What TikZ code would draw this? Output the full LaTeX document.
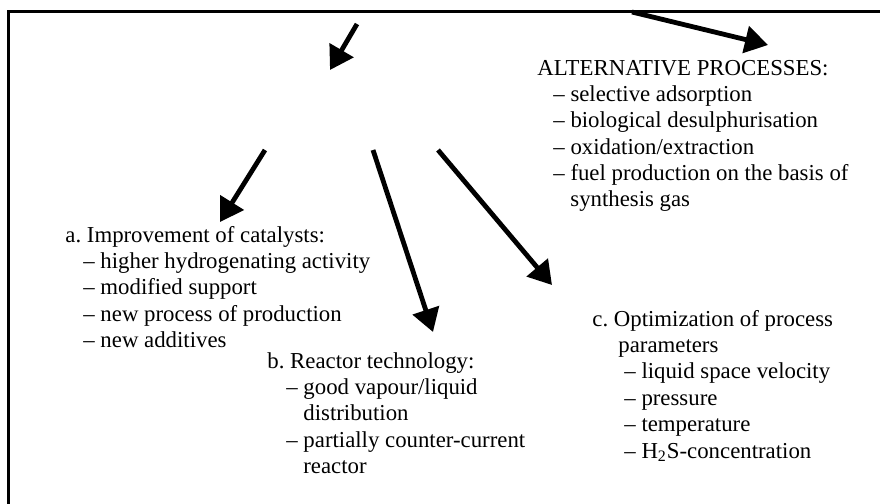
\documentclass[tikz,border=0pt]{standalone}
\usepackage{fontspec}
\setmainfont{Liberation Serif}
\usetikzlibrary{arrows.meta}
\newcommand{\dl}{\textendash\ }
\frenchspacing

\begin{document}
\begin{tikzpicture}
[x=0.5pt,y=-0.5pt
,blk/.style={anchor=base west,inner sep=0pt,font=\fontsize{11.4}{13.2}\selectfont}
,ar/.style={draw=black,line width=2.4pt,arrows={-Triangle[length=11.5pt,width=13.5pt]}}
,frm/.style={draw=black,line width=1.5pt}]
\useasboundingbox (0,0) rectangle (880,504);
\draw[frm] (8,504) -- (8,11) -- (880,11);
\node[blk] (alt) at (537,75) {\parbox[t]{200pt}{ALTERNATIVE PROCESSES:\\
\hspace*{8pt}\dl selective adsorption\\
\hspace*{8pt}\dl biological desulphurisation\\
\hspace*{8pt}\dl oxidation/extraction\\
\hspace*{8pt}\dl fuel production on the basis of\\
\hspace*{16.5pt}synthesis gas}};
\node[blk] (cat) at (65,242) {\parbox[t]{200pt}{a. Improvement of catalysts:\\
\hspace*{9pt}\dl higher hydrogenating activity\\
\hspace*{9pt}\dl modified support\\
\hspace*{9pt}\dl new process of production\\
\hspace*{9pt}\dl new additives}};
\node[blk] (rct) at (267,368) {\parbox[t]{200pt}{b. Reactor technology:\\
\hspace*{9.5pt}\dl good vapour/liquid\\
\hspace*{18pt}distribution\\
\hspace*{9.5pt}\dl partially counter-current\\
\hspace*{18pt}reactor}};
\node[blk] (opt) at (592,326) {\parbox[t]{200pt}{c. Optimization of process\\
\hspace*{13pt}parameters\\
\hspace*{16pt}\dl liquid space velocity\\
\hspace*{16pt}\dl pressure\\
\hspace*{16pt}\dl temperature\\
\hspace*{16pt}\dl H\textsubscript{2}S-concentration}};
\coordinate (s1) at (357,24);
\coordinate (e1) at (330,70);
\coordinate (s2) at (632,12);
\coordinate (e2) at (768,45);
\coordinate (sa) at (265,150);
\coordinate (ea) at (220,222);
\coordinate (sb) at (373,150);
\coordinate (eb) at (433,332);
\coordinate (sc) at (438,150);
\coordinate (ec) at (552,285);
\draw[ar] (s1) -- (e1);
\draw[ar] (s2) -- (e2);
\draw[ar] (sa) -- (ea);
\draw[ar] (sb) -- (eb);
\draw[ar] (sc) -- (ec);
\end{tikzpicture}
\end{document}
